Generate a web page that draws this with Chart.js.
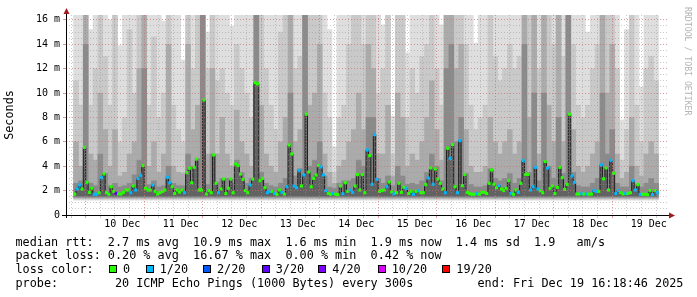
<!DOCTYPE html>
<html>
<head>
<meta charset="utf-8">
<script src="https://cdn.jsdelivr.net/npm/chart.js@4.4.1/dist/chart.umd.min.js"></script>
<style>
  body { margin: 0; background: #fff; }
  #wrap { position: relative; width: 697px; height: 297px; overflow: hidden; }
  #chart { position: absolute; left: 0; top: 0; }
  .txt {
    position: absolute;
    font-family: "DejaVu Sans Mono", monospace;
    font-size: 11.8px;
    line-height: 14px;
    white-space: pre;
    color: #000;
  }
  .box { position: absolute; width: 6px; height: 6px; border: 1px solid #000; }
  #credit {
    position: absolute; left: 683px; top: 7px;
    font-family: "DejaVu Sans Mono", monospace; font-size: 8.2px;
    writing-mode: vertical-rl; color: #b4b4b4; white-space: pre;
  }
</style>
</head>
<body>
<div id="wrap">
  <canvas id="chart" width="697" height="297"></canvas>
  <div id="credit">RRDTOOL / TOBI OETIKER</div>
</div>
<script>
// time axis is in hours since 9 Dec 00:00
const firstMedianHour = 16.5;   // one median per hour
const firstSmokeHour = 17;      // smoke bands per 2 hours

// median rtt (ms), hourly
const median = [
  1.72,2.13,2.46,2.13,5.55,2.68,1.86,2.19,1.70,1.70,
  1.83,3.06,3.36,1.83,1.70,2.32,1.94,1.77,1.72,1.72,
  1.86,2.05,2.05,1.83,2.38,2.05,3.00,3.25,4.05,2.19,
  2.05,2.05,2.46,1.94,1.72,1.83,1.94,2.05,3.09,2.65,
  2.32,1.77,2.05,1.89,2.05,1.83,3.47,3.83,2.65,3.91,
  4.59,2.05,2.05,9.43,1.72,2.00,1.83,4.92,2.60,1.83,
  2.13,
  2.95,1.77,2.19,2.95,1.83,4.18,4.05,3.36,2.92,2.00,
  1.83,2.46,2.95,10.85,10.75,2.81,3.00,2.24,1.83,1.94,
  1.94,1.77,1.70,2.05,1.86,1.72,2.32,5.74,5.00,2.38,
  2.24,3.66,2.38,3.28,8.26,3.53,2.32,3.00,3.28,4.05,
  3.94,3.28,2.00,1.77,1.70,1.77,1.70,1.67,2.38,1.75,
  2.65,1.94,2.05,1.86,2.38,3.31,2.05,3.31,1.83,5.33,
  4.87,2.52,6.59,2.92,1.94,2.00,2.05,2.32,2.70,1.89,
  1.75,1.83,2.60,1.86,2.27,2.19,1.77,1.94,1.70,1.94,
  2.00,1.83,1.83,2.49,3.03,3.86,2.52,3.77,2.95,2.60,
  2.13,1.83,5.47,4.65,5.77,2.32,1.83,6.10,2.41,3.31,
  1.86,1.75,1.70,1.70,1.75,1.70,1.86,1.86,1.77,2.60,
  3.69,2.52,2.24,2.41,2.13,2.00,2.19,2.81,1.77,1.70,
  2.05,1.86,2.60,4.46,3.33,3.33,2.05,2.32,3.91,2.13,
  2.00,1.83,4.38,3.86,2.19,2.38,1.77,2.27,3.91,3.06,
  2.10,2.52,8.26,3.20,2.68,1.72,1.72,1.77,1.72,1.72,
  1.70,1.72,2.00,1.94,1.94,4.10,2.97,3.86,2.05,4.49,
  3.42,1.77,2.00,1.83,1.72,1.77,1.77,1.83,2.81,2.05,
  2.49,1.70,1.70,1.70,1.67,2.00,1.67,2.00,1.83
];

// lost pings out of 20, hourly
const medianLoss = [
  0,1,1,0,0,0,0,0,1,1, 0,1,0,0,0,0,0,3,0,0, 0,0,0,1,0,1,1,1,0,0,
  0,0,1,0,0,0,0,0,1,1, 0,0,0,0,0,1,0,0,0,0, 0,0,0,0,0,0,0,0,0,1,
  0,
  0,0,0,0,0,0,0,0,0,0, 0,1,0,0,0,0,0,0,1,1, 0,1,0,0,1,0,1,0,0,1,
  1,1,0,1,0,0,0,0,0,0, 1,1,1,0,0,1,0,0,0,1, 0,0,1,1,0,0,0,0,0,1,
  0,1,1,1,0,0,0,1,0,0, 1,0,0,0,0,1,0,0,1,0, 1,0,0,0,1,0,1,0,0,0,
  0,1,0,1,0,0,1,1,0,0, 0,0,0,0,1,0,0,0,0,0, 0,0,0,1,0,0,0,0,1,0,
  0,1,0,1,0,0,1,1,1,1, 0,0,0,1,0,0,0,0,0,0, 0,0,0,1,1,0,0,1,0,1,
  0,0,1,1,0,1,0,0,0,1, 0,1,1,0,0,1,0,0,1,1, 0,1,0,0,0,0,1,0,1
];

// smoke: top of each grey band (ms), one value per 2 hours, outer band first
const smokeOuter = [
  16.4,16.4,16.4,15.2,16.4,16.4,16.4,16.0,16.4,13.9,
  16.4,16.4,16.4,16.4,16.4,16.4,16.4,16.4,15.9,16.4,
  16.4,16.4,12.7,16.4,16.4,16.4,16.4,15.0,16.4,16.4,
  16.4,16.4,15.5,16.4,16.4,16.4,16.4,16.4,16.4,16.4,
  16.4,16.4,16.4,16.4,16.4,16.4,16.4,16.4,16.4,16.4,
  16.4,16.4,15.2,5.6,16.4,16.4,16.4,16.4,16.4,16.4,
  16.4,16.4,16.4,15.6,16.4,8.1,16.4,16.4,13.3,16.4,
  16.4,16.4,16.4,16.4,16.4,15.6,16.4,16.4,16.4,16.4,
  16.4,16.4,14.1,16.4,16.4,16.4,16.4,16.4,16.4,16.4,
  16.4,16.4,16.4,16.4,16.4,16.4,16.4,16.4,16.4,16.4,
  16.4,16.4,16.4,16.4,16.4,15.0,16.4,16.4,16.4,16.4,
  16.4,16.4,7.8,15.2,16.4,16.4,10.5,16.4,16.4,16.4
];
const smokeMid = [
  11,9,16.4,9,12,16.4,13,9,16.4,6,
  8,15.2,10,16.4,16.4,9,14.6,8,10,16.4,
  9,7,6,16.4,12,16.4,16.4,12,16.4,11,
  12,10,9,14,12,10,8,16.4,16.4,12,
  9,7,15,16.4,16.4,12,13,16.4,16.4,16.4,
  16.4,10,8,3.5,8,9,14,16.4,16.4,14,
  16.4,16.4,10,12,16.4,5,16.4,16.4,8,12,
  10,13,14,16.4,12,9,16.4,16.4,16.4,16.4,
  14,9,7,8,9,16.4,13,11,12,14,
  12,13,16.4,16.4,16.4,12,16.4,16.4,14,16.4,
  13,16.4,14,9,8,9,12,14,16.4,16.4,
  16.4,12,4.5,7,16.4,9,6,12,13,11
];
const smokeInner = [
  6,4,16.4,5,4.5,10,7,4,7,3.2,
  3.5,5,6,12,16.4,4,6,3.5,5,14,
  4,3.5,3.4,14,7,9,16.4,5,12,5,
  8,5,4,8.6,6,5,4,16.4,9,5,
  4,3.5,6,8,16.4,6,7,16.4,9,10,
  14,5,3.5,2.6,4,4.5,6,7,10,7,
  14,12,5,5,9,3.2,10,8,4,5,
  4.5,6,8,11,7,4.5,16.4,16.4,12,14,
  7,4,3.5,3.5,4,8,6,5,6,7,
  5,6,16.4,8,16.4,5,16.4,9,6,16.4,
  6,16.4,7,4,3.5,4,5,6,16.4,10,
  14,5,3,3.5,8,4,3.2,5,6,5
];
const smokeCore = [
  2.6,2.8,14,2.6,2.4,5,3.4,2.4,2.6,2.3,
  2.4,2.6,3.3,4.5,12,2.5,2.8,2.3,2.4,4,
  2.6,2.4,2.4,5,4,4.6,16.4,2.5,5,2.7,
  3,3,2.6,4.5,3.5,2.6,3,16.4,3.5,2.6,
  2.4,2.3,2.6,3,10,3.2,3.8,16.4,4,4.5,
  6,3.2,2.3,2.2,2.6,2.8,2.8,3,4.5,4,
  8,8,3,2.6,3.2,2.4,4,3.2,2.5,2.6,
  2.5,2.8,3.5,5,4,2.8,12,14,6,8,
  3.4,2.5,2.3,2.3,2.4,3.8,3,2.8,3,3.4,
  2.6,3,14,3.5,10,2.8,10,4,3,8,
  3.4,16.4,3.5,2.4,2.3,2.3,2.6,3,10,5,
  7,2.6,2.3,2.3,4,2.5,2.3,2.6,3,2.6
];
// bottom of each band: outer, mid, inner, core, median fill
const smokeLow = [1.22, 1.3, 1.38, 1.46, 1.52];

const dayLabels = ['10 Dec','11 Dec','12 Dec','13 Dec','14 Dec','15 Dec','16 Dec','17 Dec','18 Dec','19 Dec'];
const yMajor = [0, 2, 4, 6, 8, 10, 12, 14, 16];
const yTickLabels = ['0','2 m','4 m','6 m','8 m','10 m','12 m','14 m','16 m'];

const lossSteps = [0, 1, 2, 3, 4, 10, 19];
const lossLabels = ['0','1/20','2/20','3/20','4/20','10/20','19/20'];
const lossPalette = ['#26ff00','#00b8ff','#0059ff','#5e00ff','#7e00ff','#dd00ff','#ff0000'];

function lossColor(n) {
  let c = lossPalette[0];
  lossSteps.forEach((s, i) => { if (n >= s) c = lossPalette[i]; });
  return c;
}

// grid every 6h, labels at noon
const gridHours = [];
for (let h = 18; h <= 252; h += 6) gridHours.push(h);
const noonHours = dayLabels.map((d, i) => 36 + 24 * i);
const yGrid = [];
for (let v = 0; v <= 16; v += 0.5) yGrid.push(v);

const MONO = '"DejaVu Sans Mono", monospace';
const RED_GRID = 'rgba(205,110,110,0.7)';
const GREY_GRID = 'rgba(150,150,150,0.5)';

function smokeSet(tops, low, color, order) {
  return {
    type: 'bar',
    data: tops.map((v, i) => ({ x: firstSmokeHour + 2 * i, y: [low, v] })),
    backgroundColor: color,
    borderWidth: 0,
    barPercentage: 1,
    categoryPercentage: 1,
    grouped: false,
    order: order
  };
}

const axisArrows = {
  id: 'axisArrows',
  afterDraw(chart) {
    const { ctx, chartArea: a } = chart;
    const x0 = Math.round(a.left) + 0.5;
    const y0 = Math.round(a.bottom) + 0.5;
    ctx.save();
    ctx.strokeStyle = '#000';
    ctx.lineWidth = 1;
    ctx.beginPath();
    ctx.moveTo(a.left - 4, y0); ctx.lineTo(a.right + 1, y0);
    ctx.moveTo(x0, a.top - 2); ctx.lineTo(x0, a.bottom + 3);
    ctx.stroke();
    ctx.fillStyle = '#a01c1c';
    ctx.beginPath();
    ctx.moveTo(x0, a.top - 7); ctx.lineTo(x0 - 3, a.top - 1); ctx.lineTo(x0 + 3, a.top - 1);
    ctx.closePath(); ctx.fill();
    ctx.beginPath();
    ctx.moveTo(a.right + 7, y0); ctx.lineTo(a.right + 1, y0 - 3); ctx.lineTo(a.right + 1, y0 + 3);
    ctx.closePath(); ctx.fill();
    ctx.restore();
  }
};

new Chart(document.getElementById('chart'), {
  data: {
    datasets: [
      {
        type: 'line',
        data: median.map((v, i) => ({ x: firstMedianHour + i, y: v })),
        stepped: 'middle',
        borderColor: '#1e1e1e',
        borderWidth: 1,
        fill: { value: smokeLow[4] },
        backgroundColor: '#626262',
        pointStyle: 'rect',
        pointRadius: 2.2,
        pointBorderWidth: 0,
        pointBackgroundColor: (c) => lossColor(medianLoss[c.dataIndex]),
        order: 0
      },
      smokeSet(smokeCore, smokeLow[3], '#8a8a8a', 1),
      smokeSet(smokeInner, smokeLow[2], '#ababab', 2),
      smokeSet(smokeMid, smokeLow[1], '#c9c9c9', 3),
      smokeSet(smokeOuter, smokeLow[0], '#dedede', 4)
    ]
  },
  options: {
    responsive: false,
    animation: false,
    devicePixelRatio: 1,
    layout: { padding: { top: 15, right: 29, bottom: 62, left: 0 } },
    plugins: { legend: { display: false }, tooltip: { enabled: false } },
    scales: {
      x: {
        type: 'linear',
        min: 16,
        max: 256.8,
        afterBuildTicks: (s) => { s.ticks = gridHours.map((v) => ({ value: v })); },
        afterFit: (s) => { s.height = 20; },
        ticks: {
          autoSkip: false,
          maxRotation: 0,
          padding: 0,
          color: '#000',
          font: { family: MONO, size: 10 },
          callback: (v) => {
            const i = noonHours.indexOf(v);
            return i >= 0 ? dayLabels[i] : '';
          }
        },
        grid: {
          z: 1,
          tickLength: 3,
          color: (c) => (c.tick && c.tick.value % 24 === 0 ? RED_GRID : GREY_GRID)
        },
        border: { display: false, dash: [1, 2] }
      },
      y: {
        type: 'linear',
        min: 0,
        max: 16.4,
        afterBuildTicks: (s) => { s.ticks = yGrid.map((v) => ({ value: v })); },
        afterFit: (s) => { s.width = 66; },
        ticks: {
          autoSkip: false,
          padding: 3,
          color: '#000',
          font: { family: MONO, size: 10 },
          callback: (v) => {
            const i = yMajor.indexOf(v);
            return i >= 0 ? yTickLabels[i] : '';
          }
        },
        grid: {
          z: 1,
          tickLength: 3,
          color: (c) => (c.tick && yMajor.includes(c.tick.value) ? RED_GRID : GREY_GRID),
          tickColor: (c) => (c.tick && yMajor.includes(c.tick.value) ? RED_GRID : 'rgba(0,0,0,0)')
        },
        border: { display: false, dash: [1, 2] },
        title: {
          display: true,
          text: 'Seconds',
          color: '#000',
          font: { family: MONO, size: 11.8 },
          padding: { top: 3, bottom: 0 }
        }
      }
    }
  },
  plugins: [axisArrows]
});

// legend text under the graph
const wrap = document.getElementById('wrap');
function addText(str, left, top) {
  const d = document.createElement('div');
  d.className = 'txt';
  d.textContent = str;
  d.style.left = left + 'px';
  d.style.top = top + 'px';
  wrap.appendChild(d);
}
addText('median rtt:  2.7 ms avg  10.9 ms max  1.6 ms min  1.9 ms now  1.4 ms sd  1.9   am/s', 15.5, 234.6);
addText('packet loss: 0.20 % avg  16.67 % max  0.00 % min  0.42 % now', 15.5, 248.4);
addText('loss color:', 15.5, 262.2);
addText('probe:        20 ICMP Echo Pings (1000 Bytes) every 300s', 15.5, 276.0);
addText('end: Fri Dec 19 16:18:46 2025', 477.5, 276.0);

const legendLabelX = [123, 159.7, 217, 275.7, 332.3, 391.7, 456.3];
lossLabels.forEach((lab, i) => {
  const b = document.createElement('div');
  b.className = 'box';
  b.style.background = lossPalette[i];
  b.style.left = (legendLabelX[i] - 14) + 'px';
  b.style.top = '265px';
  wrap.appendChild(b);
  addText(lab, legendLabelX[i], 262.2);
});
</script>
</body>
</html>
